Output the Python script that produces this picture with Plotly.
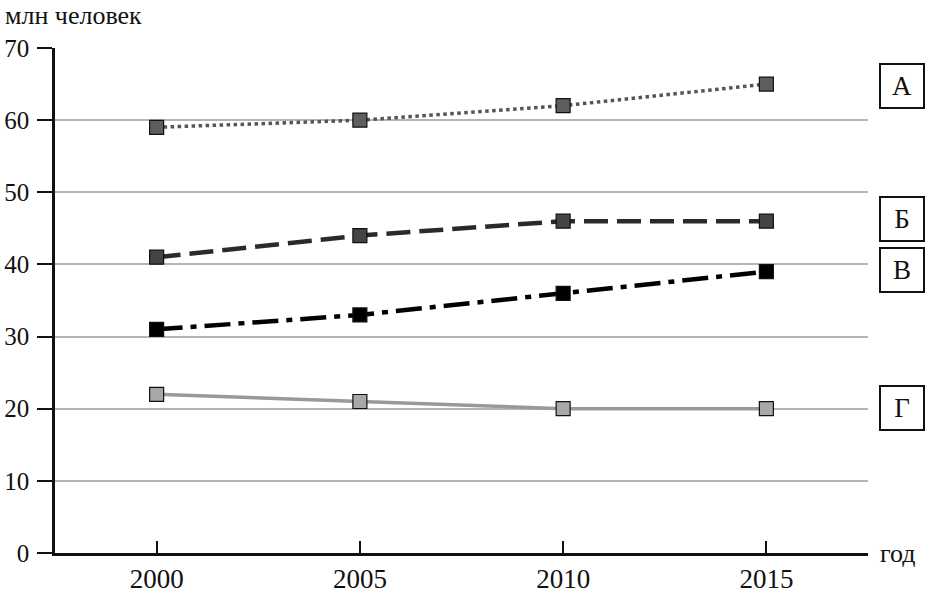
import plotly.graph_objects as go

years = [2000, 2005, 2010, 2015]
series_names = ["А", "Б", "В", "Г"]
values_A = [59, 60, 62, 65]
values_B = [41, 44, 46, 46]
values_V = [31, 33, 36, 39]
values_G = [22, 21, 20, 20]
label_y = [64.8, 46.3, 39.2, 20.1]
y_ticks = [0, 10, 20, 30, 40, 50, 60, 70]

FONT = "Liberation Serif, Times New Roman, serif"

styles = [
    dict(vals=values_A, line=dict(color="#555555", width=3.5, dash="dot"), mcolor="#5e5e5e"),
    dict(vals=values_B, line=dict(color="#2a2a2a", width=4.5, dash="24px,9px"), mcolor="#444444"),
    dict(vals=values_V, line=dict(color="#000000", width=4.5, dash="26px,8px,6px,8px"), mcolor="#000000"),
    dict(vals=values_G, line=dict(color="#999999", width=3.5), mcolor="#a8a8a8"),
]

fig = go.Figure()
for name, s in zip(series_names, styles):
    fig.add_trace(go.Scatter(
        x=years, y=s["vals"], mode="lines+markers", name=name,
        line=s["line"],
        marker=dict(symbol="square", size=14, color=s["mcolor"],
                    line=dict(color="#111111", width=1.2)),
        showlegend=False,
    ))

for name, ly in zip(series_names, label_y):
    fig.add_annotation(
        x=1.042, xref="paper", y=ly, yref="y", text=name, showarrow=False,
        xanchor="center", yanchor="middle",
        font=dict(family=FONT, size=27, color="#111111"),
        bordercolor="#111111", borderwidth=2, width=40, height=40,
        bgcolor="white",
    )

fig.add_annotation(x=0, xref="paper", y=1.0, yref="paper", xshift=-52, yshift=33,
                   text="млн человек", showarrow=False, xanchor="left", yanchor="middle",
                   font=dict(family=FONT, size=26, color="#111111"))
fig.add_annotation(x=1.0, xref="paper", y=0, yref="paper", xshift=10, yshift=0,
                   text="год", showarrow=False, xanchor="left", yanchor="middle",
                   font=dict(family=FONT, size=26, color="#111111"))

fig.update_xaxes(
    range=[1997.5, 2017.5], tickvals=years, ticktext=[str(y) for y in years],
    ticks="inside", ticklen=12, tickwidth=2, tickcolor="#111111",
    showline=True, linecolor="#111111", linewidth=2.5, showgrid=False, zeroline=False,
    tickfont=dict(family=FONT, size=27, color="#111111"), automargin=False,
)
fig.update_yaxes(
    range=[0, 70], tickvals=y_ticks,
    ticks="outside", ticklen=15, tickwidth=2, tickcolor="#111111",
    showline=True, linecolor="#111111", linewidth=2.5,
    showgrid=True, gridcolor="#b5b5b5", gridwidth=1.5, zeroline=False,
    tickfont=dict(family=FONT, size=25, color="#111111"), automargin=False,
    ticklabelstandoff=3,
)

fig.update_layout(
    width=945, height=608,
    margin=dict(l=55, r=77, t=48, b=55),
    plot_bgcolor="white", paper_bgcolor="white",
    font=dict(family=FONT),
)

fig.write_html("out.html")
